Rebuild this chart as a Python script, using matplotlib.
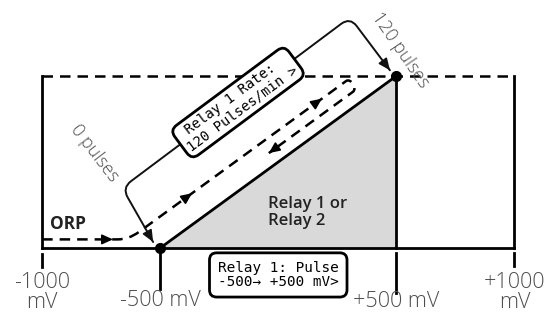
import matplotlib
matplotlib.use("Agg")
import matplotlib.pyplot as plt
import numpy as np
from matplotlib.path import Path
from matplotlib.patches import PathPatch

# ---------------- data ----------------
mv_range = [-1000, 1000]          # ORP span (mV)
band = [-500, 500]                # proportional band (mV)
rate = [0, 120]                   # relay rate (pulses/min)
tick_values = [-1000, -500, 500, 1000]
tick_labels = ["-1000\nmV", "-500 mV", "+500 mV", "+1000\nmV"]
tick_label_offset = [40, 58, 59, 40]      # px below baseline (text baseline)
tick_top = [-4.2, 0.0, -3.5, -3.5]        # tick mark extents (pulses units)
tick_bottom = [-13.3, -28.6, -31.4, -12.6]
rate_labels = ["0 pulses", "120 pulses"]
box_rate_text = " Relay 1 Rate:\n120 Pulses/min >"
box_pulse_text = "Relay 1: Pulse\n-500\u2192 +500 mV>"
zone_text = "Relay 1 or\nRelay 2"

GRAY_TXT = "#4d4d4d"
FILL = "#d9d9d9"

fig = plt.figure(figsize=(5.6, 3.12), dpi=100)
ax = fig.add_axes([0, 0, 1, 1])
ax.set_xlim(-1178.5, 1193.3)
ax.set_ylim(-44.65, 173.02)
ax.axis("off")

lo, hi = band
r0, r1 = rate
slope = (r1 - r0) / (hi - lo)


def hyp(x, off=0.0):
    return r0 + slope * (np.asarray(x) - lo) + off


# ---------------- main frame ----------------
ax.fill([lo, hi, hi], [r0, r1, r0], color=FILL, lw=0, zorder=1)
ax.plot([lo, hi], [r0, r1], color="k", lw=2.0, zorder=3)
ax.plot([hi, hi], [r0, r1], color="k", lw=2.0, zorder=3)
ax.plot(mv_range, [r0, r0], color="k", lw=2.0, zorder=3)
ax.plot([mv_range[0]] * 2, [r0, r1], color="k", lw=2.0, zorder=3)
ax.plot([mv_range[1]] * 2, [r0, r1], color="k", lw=2.0, zorder=3)
ax.plot(mv_range, [r1, r1], color="k", lw=1.8, dashes=(4.2, 2.8), zorder=2)
ax.plot([lo, hi], [r0, r1], "o", color="k", ms=7, zorder=8)

# ticks + labels
for v, lab, off, t0, t1 in zip(tick_values, tick_labels, tick_label_offset,
                               tick_top, tick_bottom):
    ax.plot([v, v], [t0, t1], color="k", lw=2.0, zorder=3)
    for i, line in enumerate(lab.split("\n")):
        ax.annotate(line, xy=(v, r0), xytext=(0, -off - 20 * i),
                    textcoords="offset pixels", ha="center", va="baseline",
                    fontsize=15.5, family="Open Sans", weight="light",
                    color=GRAY_TXT, annotation_clip=False)

# ---------------- ORP dashed path ----------------
orp_level = 6.0
asc_off = 22.0
desc_off = 11.0
x_ctrl = lo + (orp_level - asc_off) / slope
xa = 287.0
xd = 316.0
xe = -40.0
t = 20.0
verts = [
    (mv_range[0], orp_level),
    (-680.0, orp_level),
    (x_ctrl, orp_level),
    (-590.0, float(hyp(-590.0, asc_off))),
    (xa, float(hyp(xa, asc_off))),
    (xa + t, float(hyp(xa + t, asc_off))),
    (xd + t, float(hyp(xd + t, desc_off))),
    (xd, float(hyp(xd, desc_off))),
    (xe, float(hyp(xe, desc_off))),
]
codes = [Path.MOVETO, Path.LINETO, Path.CURVE3, Path.CURVE3, Path.LINETO,
         Path.CURVE4, Path.CURVE4, Path.CURVE4, Path.LINETO]
orp = PathPatch(Path(verts, codes), fill=False, ec="k", lw=1.8,
                linestyle=(0, (4.2, 2.8)), zorder=4)
ax.add_patch(orp)


def head(tip, d, k, scale=12):
    tail = (tip[0] - d[0] * k, tip[1] - d[1] * k)
    ax.annotate("", xy=tip, xytext=tail,
                arrowprops=dict(arrowstyle="-|>,head_length=0.55,head_width=0.25",
                                color="k", lw=1.2, mutation_scale=scale,
                                shrinkA=0, shrinkB=0), zorder=5)


head((-700.0, orp_level), (1, 0), 35)
for xt in (-365.0, 185.0):
    head((xt, float(hyp(xt, asc_off))), (1, slope), 28)
head((xe, float(hyp(xe, desc_off))), (-1, -slope), 28)

# ---------------- bracket ----------------
br = np.array([(-530.0, 4.2), (-661.0, 42.0), (304.0, 161.0), (473.0, 124.0)])


def rounded(points, r):
    pts = ax.transData.transform(points)
    v = [pts[0]]
    c = [Path.MOVETO]
    for i in range(1, len(pts) - 1):
        p = pts[i]
        u1 = (pts[i - 1] - p) / np.linalg.norm(pts[i - 1] - p)
        u2 = (pts[i + 1] - p) / np.linalg.norm(pts[i + 1] - p)
        v += [p + u1 * r, p, p + u2 * r]
        c += [Path.LINETO, Path.CURVE3, Path.CURVE3]
    v.append(pts[-1])
    c.append(Path.LINETO)
    return Path(ax.transData.inverted().transform(np.array(v)), c)


ax.add_patch(PathPatch(rounded(br, 11), fill=False, ec="#111111", lw=1.4,
                       zorder=4, capstyle="round", joinstyle="round"))
for a, b in ((br[1], br[0]), (br[2], br[3])):
    d = (b - a) / np.linalg.norm(b - a)
    tail = b - d * 0.08 * np.linalg.norm(b - a)
    ax.annotate("", xy=tuple(b), xytext=tuple(tail),
                arrowprops=dict(arrowstyle="-|>,head_length=0.5,head_width=0.22",
                                color="#111111", lw=1.2, mutation_scale=14,
                                shrinkA=0, shrinkB=0), zorder=5)

# ---------------- texts ----------------
ax.text(-170.5, 101.5, box_rate_text, rotation=36.6, rotation_mode="anchor",
        ha="center", va="center", multialignment="left",
        family="DejaVu Sans Mono", fontsize=10, linespacing=1.05, zorder=7,
        bbox=dict(boxstyle="round,pad=0.3,rounding_size=0.6", fc="white",
                  ec="k", lw=2.0))

ax.text(0.0, -18.8, box_pulse_text, ha="center", va="center",
        multialignment="center", family="DejaVu Sans Mono", fontsize=10.4,
        linespacing=0.95, zorder=7,
        bbox=dict(boxstyle="round,pad=0.58,rounding_size=0.5", fc="white",
                  ec="k", lw=2.0))

ax.text(-43.0, 24.8, zone_text, ha="left", va="center", fontsize=12,
        family="Open Sans", weight="semibold", color="#222222",
        linespacing=1.1, zorder=6)

ax.text(-966.0, 13.3, "ORP", ha="left", va="baseline", fontsize=12.5,
        family="Open Sans", weight="bold", color="#222222", zorder=6)

ax.text(-776.0, 66.3, rate_labels[0], rotation=-52.5, rotation_mode="anchor",
        ha="center", va="center", fontsize=13, family="Open Sans",
        weight="light", color=GRAY_TXT, zorder=6)
ax.text(515.5, 138.1, rate_labels[1], rotation=-55.5, rotation_mode="anchor",
        ha="center", va="center", fontsize=13, family="Open Sans",
        weight="light", color=GRAY_TXT, zorder=6)

fig.savefig("out.png", dpi=100, facecolor="white")
